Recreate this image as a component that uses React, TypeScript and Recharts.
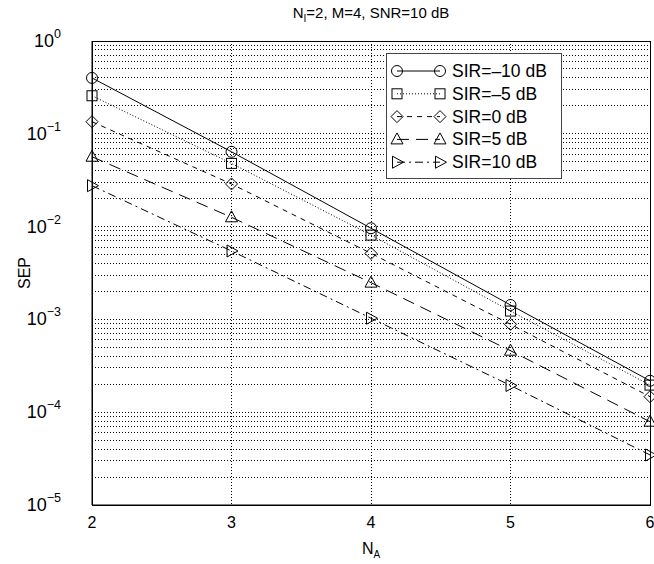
import React from 'react';
import { LineChart, Line, XAxis, YAxis, CartesianGrid, ReferenceLine, ReferenceArea } from 'recharts';

const NA = [2, 3, 4, 5, 6];
const SEP_SIR_M10 = [0.4, 0.064, 0.0096, 0.00143, 0.000218];
const SEP_SIR_M5 = [0.257, 0.048, 0.0081, 0.00123, 0.000196];
const SEP_SIR_0 = [0.135, 0.0288, 0.00515, 0.000885, 0.000147];
const SEP_SIR_5 = [0.0566, 0.0126, 0.00249, 0.00046, 0.000079];
const SEP_SIR_10 = [0.0276, 0.00546, 0.00103, 0.000194, 0.0000346];

const Y_TICKS = [1, 0.1, 0.01, 0.001, 0.0001, 0.00001];
const Y_EXPS = ['0', '\u22121', '\u22122', '\u22123', '\u22124', '\u22125'];
const DECADES = [0.00001, 0.0001, 0.001, 0.01, 0.1];
const MINOR = [2, 3, 4, 5, 6, 7, 8, 9];
const X_TICKS = [2, 3, 4, 5, 6];

const FONT = '"Liberation Sans", Arial, sans-serif';

type Kind = 'circle' | 'square' | 'diamond' | 'triUp' | 'triRight';

const SERIES: { key: string; name: string; kind: Kind; dash?: string }[] = [
  { key: 'm10', name: 'SIR=\u201310 dB', kind: 'circle' },
  { key: 'm5', name: 'SIR=\u20135 dB', kind: 'square', dash: '1 2' },
  { key: 'z0', name: 'SIR=0 dB', kind: 'diamond', dash: '5 5' },
  { key: 'p5', name: 'SIR=5 dB', kind: 'triUp', dash: '12 7' },
  { key: 'p10', name: 'SIR=10 dB', kind: 'triRight', dash: '8 4 2 4' },
];

const data = NA.map((na, i) => ({
  na,
  m10: SEP_SIR_M10[i],
  m5: SEP_SIR_M5[i],
  z0: SEP_SIR_0[i],
  p5: SEP_SIR_5[i],
  p10: SEP_SIR_10[i],
}));

const minorLines = DECADES.flatMap((d) => MINOR.map((m) => m * d));

function Marker({ kind, cx, cy }: { kind: Kind; cx: number; cy: number }) {
  const s = { fill: 'none', stroke: '#000', strokeWidth: 1 };
  if (kind === 'circle') return <circle cx={cx} cy={cy} r={5.5} {...s} />;
  if (kind === 'square') return <rect x={cx - 5} y={cy - 5} width={10} height={10} {...s} />;
  if (kind === 'diamond')
    return <polygon points={`${cx},${cy - 6} ${cx + 6},${cy} ${cx},${cy + 6} ${cx - 6},${cy}`} {...s} />;
  if (kind === 'triUp')
    return <polygon points={`${cx},${cy - 6.5} ${cx + 6},${cy + 4.5} ${cx - 6},${cy + 4.5}`} {...s} />;
  return <polygon points={`${cx + 6.5},${cy} ${cx - 4.5},${cy + 6} ${cx - 4.5},${cy - 6}`} {...s} />;
}

function YTick(props: any) {
  const { y, payload } = props;
  const i = Y_TICKS.indexOf(payload.value);
  return (
    <text x={61} y={y + 6} textAnchor="end" fontFamily={FONT} fontSize={18} fill="#000">
      <tspan>10</tspan>
      <tspan dy={-9} fontSize={12.5}>{Y_EXPS[i]}</tspan>
    </text>
  );
}

function XTick(props: any) {
  const { x, y, payload } = props;
  return (
    <text x={x} y={y + 21} textAnchor="middle" fontFamily={FONT} fontSize={16} fill="#000">
      {payload.value}
    </text>
  );
}

function LegendBox() {
  return (
    <div
      style={{
        position: 'absolute', left: 386, top: 53, width: 176, height: 126,
        background: '#fff', border: '1px solid #444', boxSizing: 'border-box',
      }}
    >
      <svg width={176} height={126} style={{ position: 'absolute', left: -1, top: -1 }}>
        {SERIES.map((s, i) => {
          const cy = 18 + i * 22.8;
          return (
            <g key={s.key}>
              <line x1={11} x2={54} y1={cy} y2={cy} stroke="#000" strokeWidth={1} strokeDasharray={s.dash} />
              <Marker kind={s.kind} cx={11} cy={cy} />
              <Marker kind={s.kind} cx={54} cy={cy} />
              <text x={66} y={cy + 6} fontFamily={FONT} fontSize={17.5} fill="#000">{s.name}</text>
            </g>
          );
        })}
      </svg>
    </div>
  );
}

export default function App() {
  return (
    <div style={{ position: 'relative', width: 654, height: 564, background: '#fff', fontFamily: FONT }}>
      <style>{'body{margin:0}'}</style>
      <div style={{ position: 'absolute', left: 92, width: 558, top: 4, textAlign: 'center', fontSize: 15, color: '#000' }}>
        N<sub style={{ fontSize: 10 }}>I</sub>=2, M=4, SNR=10 dB
      </div>
      <LineChart width={654} height={564} data={data} margin={{ top: 41, right: 4, bottom: 0, left: 0 }}>
        <CartesianGrid stroke="#000" strokeDasharray="1 2" strokeWidth={1} shapeRendering="crispEdges" />
        {minorLines.map((v) => (
          <ReferenceLine key={v} y={v} stroke="#000" strokeDasharray="1 2" strokeWidth={1} shapeRendering="crispEdges" />
        ))}
        <XAxis
          dataKey="na" type="number" domain={[2, 6]} ticks={X_TICKS} tick={<XTick />}
          tickLine={false} tickSize={0} height={59} axisLine={{ stroke: '#000' }}
          label={({ viewBox }: any) => (
            <text x={viewBox.x + viewBox.width / 2} y={554} textAnchor="middle" fontFamily={FONT} fontSize={16} fill="#000">
              N<tspan dy={4} fontSize={10}>A</tspan>
            </text>
          )}
        />
        <YAxis
          type="number" scale="log" domain={[0.00001, 1]} allowDataOverflow ticks={Y_TICKS}
          tick={<YTick />} tickLine={false} tickSize={0} width={92} axisLine={{ stroke: '#000' }}
          label={({ viewBox }: any) => (
            <text
              x={30} y={viewBox.y + viewBox.height / 2} textAnchor="middle" fontFamily={FONT} fontSize={16} fill="#000"
              transform={`rotate(-90 30 ${viewBox.y + viewBox.height / 2})`}
            >
              SEP
            </text>
          )}
        />
        <ReferenceArea x1={2} x2={6} y1={0.00001} y2={1} fill="none" stroke="#000" strokeWidth={1} shapeRendering="crispEdges" />
        {SERIES.map((s) => (
          <Line
            key={s.key}
            dataKey={s.key}
            name={s.name}
            stroke="#000"
            strokeWidth={1}
            strokeDasharray={s.dash}
            isAnimationActive={false}
            dot={(p: any) => <Marker key={`${s.key}-${p.index}`} kind={s.kind} cx={p.cx} cy={p.cy} />}
            activeDot={false}
          />
        ))}
      </LineChart>
      <LegendBox />
    </div>
  );
}
